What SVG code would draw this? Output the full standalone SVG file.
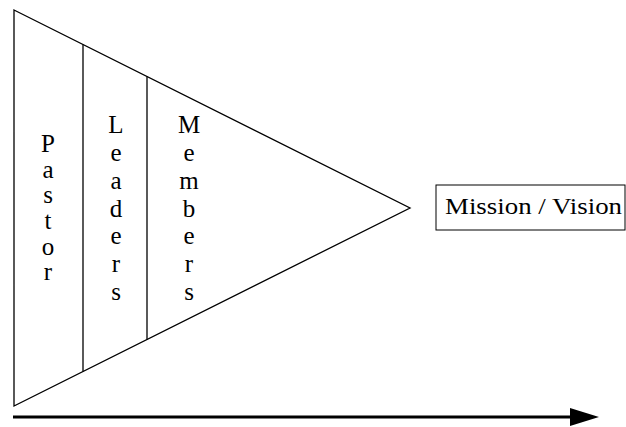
<svg xmlns="http://www.w3.org/2000/svg" width="626" height="427" viewBox="0 0 626 427">
<style>
.ln{fill:none;stroke:#000;stroke-width:1.3}
.t{font-family:"Liberation Serif","Times New Roman",serif;font-size:25px;fill:#000;text-anchor:middle}
</style>
<rect width="626" height="427" fill="#fff"/>
<g id="triangle">
<polygon class="ln" points="14,10 410,208 14,406"/>
</g>
<g id="dividers">
<line class="ln" x1="83" y1="44.5" x2="83" y2="371.5" stroke-width="1.1"/>
<line class="ln" x1="147" y1="76.5" x2="147" y2="339.5" stroke-width="1.6"/>
</g>
<g id="pastor">
<text class="t" x="48" y="152">P</text>
<text class="t" x="48" y="178">a</text>
<text class="t" x="48" y="203">s</text>
<text class="t" x="48" y="229">t</text>
<text class="t" x="48" y="255">o</text>
<text class="t" x="48" y="280">r</text>
</g>
<g id="leaders">
<text class="t" x="116" y="133">L</text>
<text class="t" x="116" y="161">e</text>
<text class="t" x="116" y="189">a</text>
<text class="t" x="116" y="217">d</text>
<text class="t" x="116" y="244">e</text>
<text class="t" x="116" y="272">r</text>
<text class="t" x="116" y="300">s</text>
</g>
<g id="members">
<text class="t" x="189" y="133">M</text>
<text class="t" x="189" y="161">e</text>
<text class="t" x="189" y="189">m</text>
<text class="t" x="189" y="217">b</text>
<text class="t" x="189" y="244">e</text>
<text class="t" x="189" y="272">r</text>
<text class="t" x="189" y="300">s</text>
</g>
<g id="mission">
<rect x="436" y="185" width="189" height="45" fill="#fff" stroke="#000" stroke-width="1"/>
<text x="445" y="214" font-family="Liberation Serif,Times New Roman,serif" font-size="23" textLength="177" lengthAdjust="spacingAndGlyphs">Mission / Vision</text>
</g>
<g id="connectors">
<line x1="13" y1="417" x2="575" y2="417" stroke="#000" stroke-width="3"/>
<polygon points="570,408 599,417 570,426" fill="#000"/>
</g>
</svg>
